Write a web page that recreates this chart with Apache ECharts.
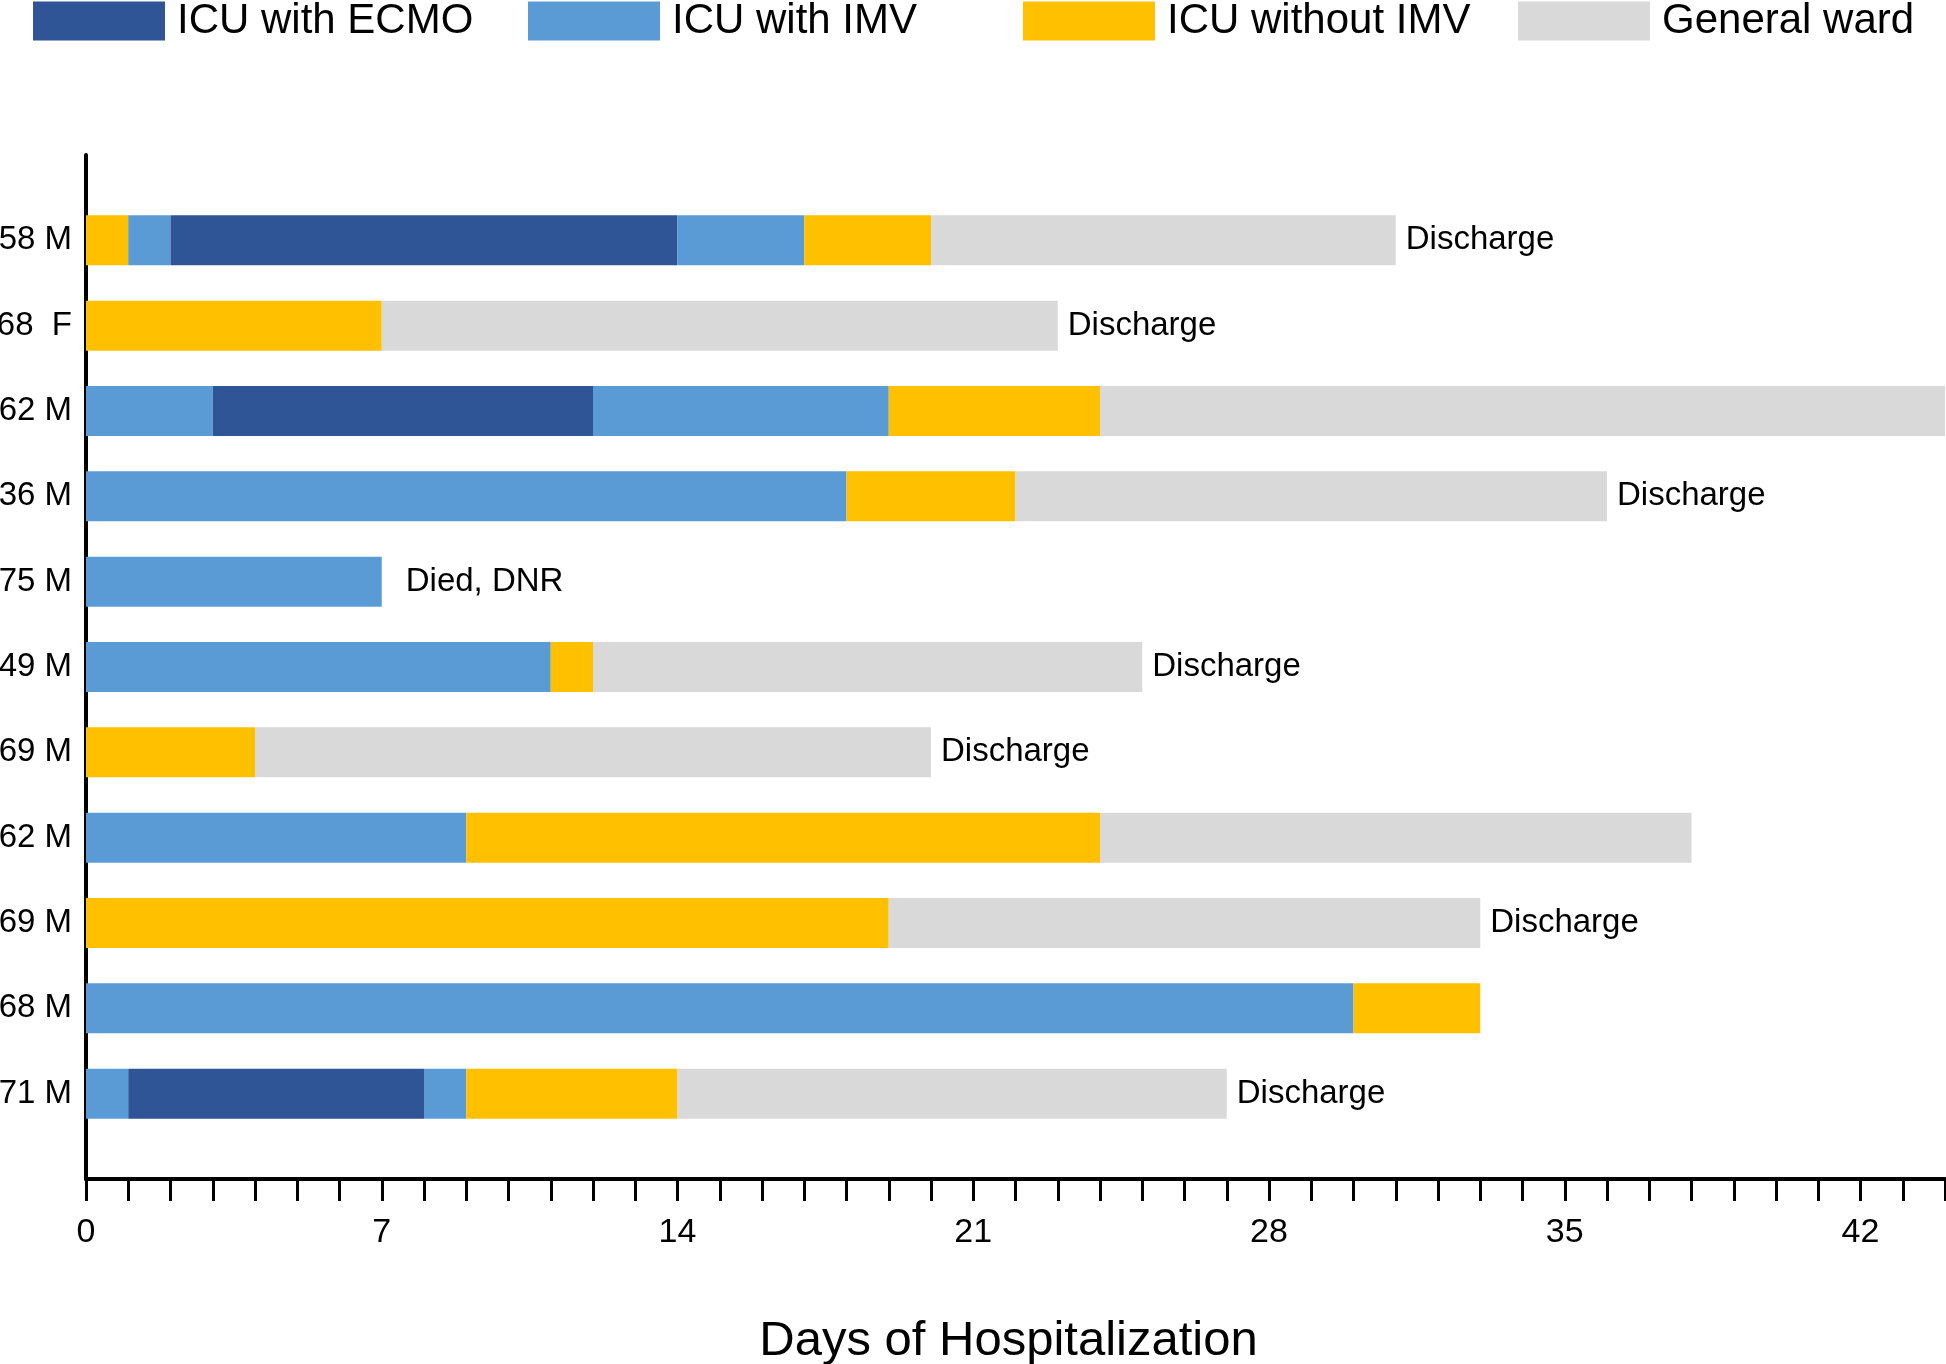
<!DOCTYPE html>
<html>
<head>
<meta charset="utf-8">
<script src="https://cdn.jsdelivr.net/npm/echarts@6/dist/echarts.min.js"></script>
<style>
  html, body { margin: 0; padding: 0; background: #fff; }
  #chart { width: 1946px; height: 1364px; }
</style>
</head>
<body>
<div id="chart"></div>
<script>
// wards and their colours
var wards = ['ICU with ECMO', 'ICU with IMV', 'ICU without IMV', 'General ward'];
var wardColors = ['#2F5597', '#5B9BD5', '#FFC000', '#D9D9D9'];

// patients, top to bottom
var patients = ['58 M', '68  F', '62 M', '36 M', '75 M', '49 M', '69 M', '62 M', '69 M', '68 M', '71 M'];

// ward index of each stay segment, in order
var stayWard = [
    [2, 1, 0, 1, 2, 3],
    [2, 3],
    [1, 0, 1, 2, 3],
    [1, 2, 3],
    [1],
    [1, 2, 3],
    [2, 3],
    [1, 2, 3],
    [2, 3],
    [1, 2],
    [1, 0, 1, 2, 3]
];
// days spent in each segment
var stayDays = [
    [1, 1, 12, 3, 3, 11],
    [7, 16],
    [3, 9, 7, 5, 20],
    [18, 4, 14],
    [7],
    [11, 1, 13],
    [4, 16],
    [9, 15, 14],
    [19, 14],
    [30, 3],
    [1, 7, 1, 5, 13]
];
var outcomes = ['Discharge', 'Discharge', '', 'Discharge', 'Died, DNR', 'Discharge', 'Discharge', '', 'Discharge', '', 'Discharge'];

var maxSegs = 6;
var cats = [''].concat(patients, ['']);
var font = 'Liberation Sans, Arial, sans-serif';

var series = [];
// dummy series, only for the legend
wards.forEach(function (w, i) {
    series.push({
        name: w, type: 'bar', stack: 'stay', barWidth: 50,
        itemStyle: { color: wardColors[i] }, data: []
    });
});
for (var k = 0; k < maxSegs; k++) {
    var data = ['-'];
    for (var r = 0; r < patients.length; r++) {
        if (k < stayDays[r].length) {
            var item = {
                value: stayDays[r][k],
                itemStyle: { color: wardColors[stayWard[r][k]] }
            };
            if (k === stayDays[r].length - 1 && outcomes[r]) {
                item.label = {
                    show: true, position: 'right', formatter: outcomes[r],
                    distance: outcomes[r] === 'Died, DNR' ? 24 : 10,
                    color: '#000', fontSize: 33, fontFamily: font
                };
            }
            data.push(item);
        } else {
            data.push('-');
        }
    }
    data.push('-');
    series.push({
        type: 'bar', stack: 'stay', barWidth: 50, data: data,
        emphasis: { disabled: true }
    });
}

var chart = echarts.init(document.getElementById('chart'));
var option = {
    animation: false,
    backgroundColor: '#fff',
    legend: wards.map(function (w, i) {
        return {
            data: [w],
            left: 33 + i * 495,
            top: 0,
            padding: 0,
            icon: 'rect',
            itemWidth: 132,
            itemHeight: 39,
            selectedMode: false,
            textStyle: {
                color: '#000', fontSize: 42, fontFamily: font,
                padding: [0, 0, 0, 7]
            }
        };
    }),
    grid: { left: 86, right: 1, top: 155, bottom: 185, outerBoundsMode: 'none' },
    xAxis: {
        type: 'value',
        min: 0,
        max: 44,
        interval: 1,
        splitLine: { show: false },
        axisLine: { show: true, lineStyle: { color: '#000', width: 4 } },
        axisTick: { show: true, length: 22, lineStyle: { color: '#000', width: 3 } },
        axisLabel: {
            margin: 37, color: '#000', fontSize: 34, fontFamily: font,
            formatter: function (v) { return v % 7 === 0 ? String(v) : ''; }
        },
        name: 'Days of Hospitalization',
        nameLocation: 'middle',
        nameGap: 138,
        nameTextStyle: { color: '#000', fontSize: 49, fontFamily: font, padding: [0, 14, 0, 0] }
    },
    yAxis: {
        type: 'category',
        data: cats,
        inverse: true,
        boundaryGap: false,
        axisLine: { show: true, lineStyle: { color: '#000', width: 4 } },
        axisTick: { show: false },
        splitLine: { show: false },
        axisLabel: { margin: 14, color: '#000', fontSize: 33, fontFamily: font }
    },
    series: series
};
chart.setOption(option);
</script>
</body>
</html>
